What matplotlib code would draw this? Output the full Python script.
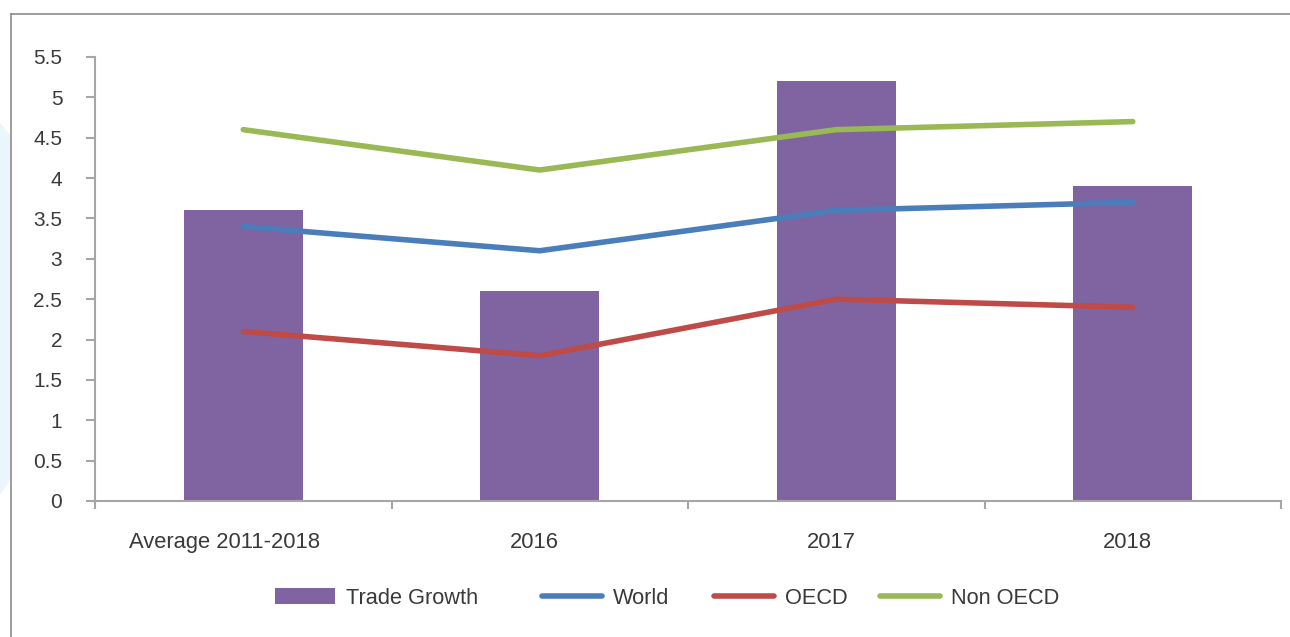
import matplotlib
matplotlib.use("Agg")
import matplotlib.pyplot as plt
from matplotlib.patches import Patch, Polygon
from matplotlib.lines import Line2D
import matplotlib.transforms as mtransforms
import numpy as np

categories = ["Average 2011-2018", "2016", "2017", "2018"]
trade_growth = [3.6, 2.6, 5.2, 3.9]
world = [3.4, 3.1, 3.6, 3.7]
oecd = [2.1, 1.8, 2.5, 2.4]
non_oecd = [4.6, 4.1, 4.6, 4.7]
y_ticks = [0, 0.5, 1, 1.5, 2, 2.5, 3, 3.5, 4, 4.5, 5, 5.5]
y_tick_labels = ["0", "0.5", "1", "1.5", "2", "2.5", "3", "3.5", "4", "4.5", "5", "5.5"]

c_bar = "#8064A2"
c_world = "#4A7EBB"
c_oecd = "#BE4B48"
c_non = "#98B954"
axis_c = "#A6A6A6"
text_c = "#3A3A3A"

plt.rcParams['font.family'] = ['Liberation Sans', 'DejaVu Sans']

W, H = 1290, 637
fig = plt.figure(figsize=(W / 100, H / 100), dpi=100)

# faint background shape at left and frame lines
fig.patches.append(Polygon([[0, 1 - 123 / H], [10 / W, 1 - 135 / H], [10 / W, 1 - 480 / H], [0, 1 - 495 / H]],
                           closed=True, transform=fig.transFigure, facecolor="#EAF5FC", edgecolor="none", zorder=0))
fig.add_artist(Line2D([11 / W, 1], [1 - 13.5 / H, 1 - 13.5 / H], transform=fig.transFigure, color="#8C8C8C", lw=1.2))
fig.add_artist(Line2D([11 / W, 11 / W], [1 - 13.5 / H, 0], transform=fig.transFigure, color="#8C8C8C", lw=1.2))

ax = fig.add_axes([95 / W, 1 - 501 / H, (1281 - 95) / W, (501 - 57) / H])
x = np.arange(len(categories))
ax.bar(x, trade_growth, width=0.4, color=c_bar, zorder=2)
for vals, col in [(world, c_world), (oecd, c_oecd), (non_oecd, c_non)]:
    ax.plot(x, vals, color=col, lw=4, solid_capstyle="round", solid_joinstyle="round", zorder=3)

ax.set_xlim(-0.5, len(categories) - 0.5)
ax.set_ylim(0, 5.5)
ax.set_yticks(y_ticks)
ax.set_yticklabels(y_tick_labels)
ax.set_xticks(np.arange(len(categories) + 1) - 0.5)
ax.set_xticklabels([])
ax.set_xticks(x, minor=True)
ax.set_xticklabels(categories, minor=True)

for s in ["top", "right"]:
    ax.spines[s].set_visible(False)
for s in ["left", "bottom"]:
    ax.spines[s].set_color(axis_c)
    ax.spines[s].set_linewidth(1.5)

ax.tick_params(axis="y", direction="out", length=6.5, width=1.5, color=axis_c,
               labelsize=15, labelcolor=text_c, pad=17)
ax.tick_params(axis="x", which="major", direction="out", length=6, width=1.5, color=axis_c)
ax.tick_params(axis="x", which="minor", length=0, labelsize=15.8, labelcolor=text_c, pad=22)

# small horizontal offsets of category labels as in the reference
shifts = [-19, -5, -5, -5]
for lab, dx in zip(ax.get_xticklabels(minor=True), shifts):
    lab.set_transform(lab.get_transform() + mtransforms.ScaledTranslation(dx / 100, 0, fig.dpi_scale_trans))

# legend entries
entries = [
    (Patch(facecolor=c_bar, edgecolor="none"), "Trade Growth", 275),
    (Line2D([], [], color=c_world, lw=4, solid_capstyle="round"), "World", 542),
    (Line2D([], [], color=c_oecd, lw=4, solid_capstyle="round"), "OECD", 714),
    (Line2D([], [], color=c_non, lw=4, solid_capstyle="round"), "Non OECD", 880),
]
for h, lab, px in entries:
    fig.legend([h], [lab], loc="center left", bbox_to_anchor=(px / W, 1 - 598 / H),
               frameon=False, borderpad=0, borderaxespad=0, fontsize=15.7,
               handlelength=2.75, handleheight=0.75, handletextpad=0.5, labelcolor=text_c)

fig.savefig("out.png", dpi=100, facecolor="white")
